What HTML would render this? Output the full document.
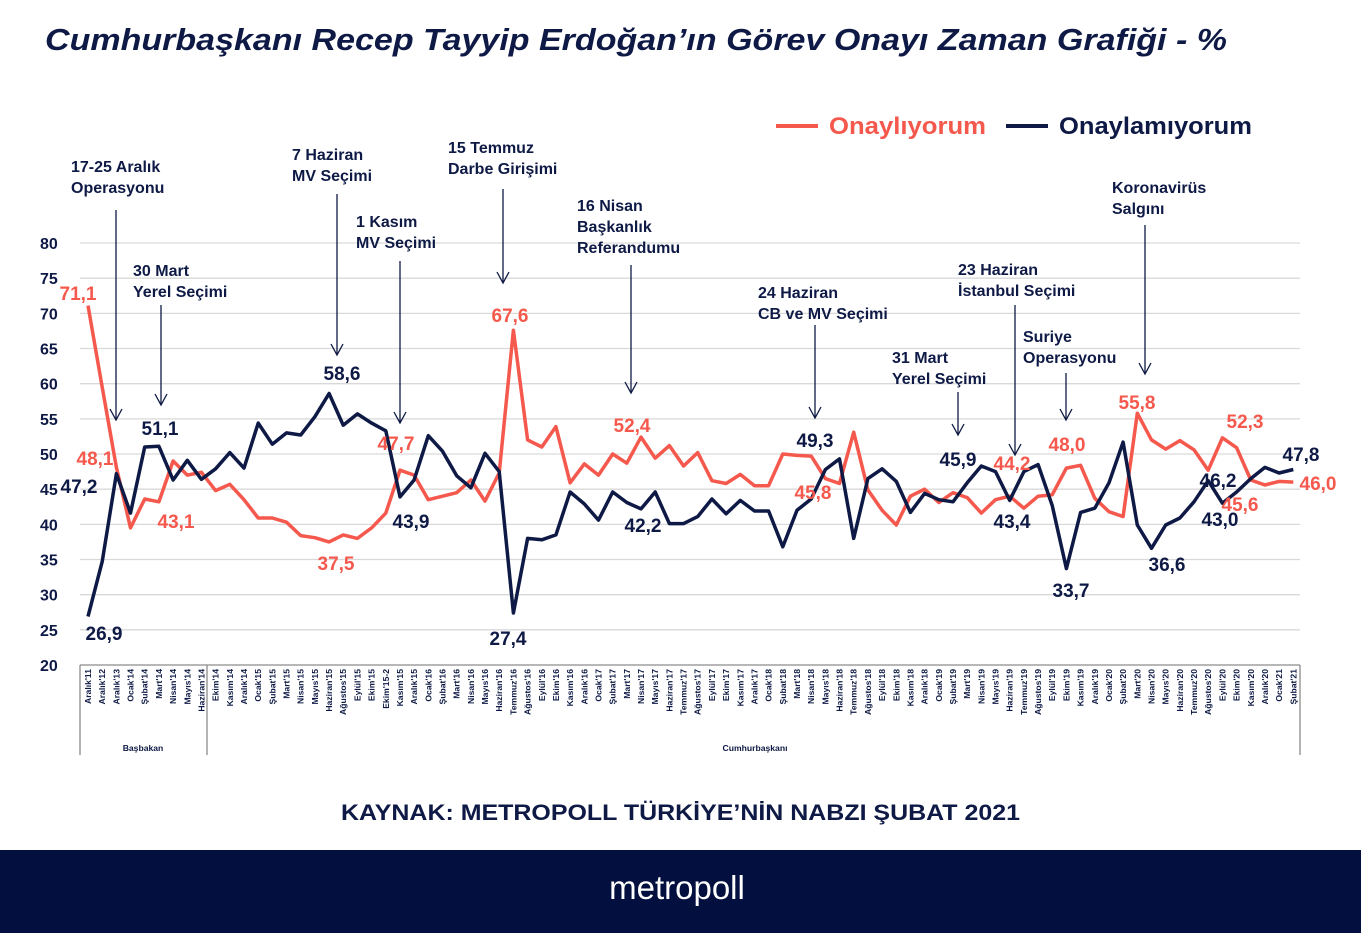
<!DOCTYPE html>
<html><head><meta charset="utf-8">
<style>
html,body{margin:0;padding:0;background:#fff;}
body{width:1361px;height:933px;overflow:hidden;position:relative;font-family:"Liberation Sans",sans-serif;}
svg text{font-family:"Liberation Sans",sans-serif;}
</style></head><body>
<svg id="s" width="1361" height="933" xmlns="http://www.w3.org/2000/svg">
<text x="45" y="50" font-size="31" font-weight="bold" font-style="italic" fill="#0e1a45" textLength="1182" lengthAdjust="spacingAndGlyphs">Cumhurbaşkanı Recep Tayyip Erdoğan’ın Görev Onayı Zaman Grafiği - %</text>
<line x1="776" y1="126" x2="818" y2="126" stroke="#f5584c" stroke-width="4"/>
<text x="829" y="134" font-size="24" font-weight="bold" fill="#f5584c" textLength="157" lengthAdjust="spacingAndGlyphs">Onaylıyorum</text>
<line x1="1006" y1="126" x2="1048" y2="126" stroke="#0e1a45" stroke-width="4"/>
<text x="1059" y="134" font-size="24" font-weight="bold" fill="#0e1a45" textLength="193" lengthAdjust="spacingAndGlyphs">Onaylamıyorum</text>
<g id="grid"></g>
<g id="ann" fill="#0e1a45" font-size="16" font-weight="bold"></g>
<g id="lines"></g>
<g id="lbl" font-size="19" font-weight="bold"></g>
<g id="xax" font-size="8.6" font-weight="bold" fill="#0e1a45"></g>
<text x="341" y="820" font-size="22" font-weight="bold" fill="#0e1a45" textLength="679" lengthAdjust="spacingAndGlyphs">KAYNAK: METROPOLL TÜRKİYE’NİN NABZI ŞUBAT 2021</text>
<rect x="0" y="850" width="1361" height="83" fill="#03103f"/>
<text x="677" y="899" font-size="33" fill="#fff" text-anchor="middle">metropoll</text>
</svg>
<script>
var NS="http://www.w3.org/2000/svg";
function el(p,t,a,txt){var e=document.createElementNS(NS,t);for(var k in a)e.setAttribute(k,a[k]);if(txt!==undefined)e.textContent=txt;document.getElementById(p).appendChild(e);return e;}
function Y(v){return 665-(v-20)*7.033;}
function X(i){return 88+14.18*i;}
for(var v=20;v<=80;v+=5){
 if(v>20)el("grid","line",{x1:80,x2:1300,y1:Y(v),y2:Y(v),stroke:"#d9d9d9","stroke-width":1.3});
 el("grid","text",{x:40,y:Y(v)+6,"font-size":16,"font-weight":"bold",fill:"#0e1a45"},v);
}
var A=[71.1,59.5,48.1,39.5,43.6,43.2,49.0,47.0,47.4,44.8,45.7,43.5,40.9,40.9,40.3,38.4,38.1,37.5,38.5,38.0,39.5,41.6,47.7,47.0,43.5,44.0,44.5,46.3,43.3,47.3,67.6,52.0,51.0,53.9,45.9,48.6,47.0,50.0,48.7,52.4,49.4,51.2,48.3,50.2,46.2,45.8,47.1,45.5,45.5,50.0,49.8,49.7,46.5,45.8,53.1,44.9,42.0,39.9,44.0,45.0,43.1,44.5,43.8,41.6,43.5,44.0,42.3,44.0,44.2,48.0,48.4,43.7,41.8,41.1,55.8,52.0,50.7,51.9,50.6,47.7,52.3,50.9,46.3,45.6,46.1,46.0];
var D=[26.9,34.7,47.2,41.6,51.0,51.1,46.3,49.1,46.4,47.9,50.2,48.0,54.4,51.4,53.0,52.7,55.3,58.6,54.1,55.7,54.4,53.3,43.9,46.3,52.6,50.4,46.9,45.2,50.1,47.5,27.4,38.0,37.8,38.5,44.6,42.9,40.6,44.6,43.1,42.2,44.6,40.1,40.1,41.1,43.6,41.5,43.4,41.9,41.9,36.8,42.0,43.6,47.8,49.3,38.0,46.5,47.9,46.1,41.7,44.4,43.5,43.2,45.9,48.3,47.5,43.4,47.5,48.5,42.7,33.7,41.7,42.3,45.9,51.7,39.9,36.6,39.9,40.9,43.2,46.2,43.0,44.6,46.5,48.1,47.3,47.8];
function pts(a){return a.map(function(v,i){return X(i).toFixed(1)+","+Y(v).toFixed(1);}).join(" ");}
var ann=[[116,210,420,71,172,"17-25 Aralık","Operasyonu"],[161,305,405,133,276,"30 Mart","Yerel Seçimi"],[337,194,355,292,160,"7 Haziran","MV Seçimi"],[400,261,423,356,227,"1 Kasım","MV Seçimi"],[503,189,283,448,153,"15 Temmuz","Darbe Girişimi"],[631,265,393,577,211,"16 Nisan","Başkanlık","Referandumu"],[815,325,418,758,298,"24 Haziran","CB  ve MV Seçimi"],[958,392,435,892,363,"31 Mart","Yerel Seçimi"],[1015,305,455,958,275,"23 Haziran","İstanbul Seçimi"],[1066,373,420,1023,342,"Suriye","Operasyonu"],[1145,225,374,1112,193,"Koronavirüs","Salgını"]];
ann.forEach(function(a){
 el("ann","line",{x1:a[0],x2:a[0],y1:a[1],y2:a[2],stroke:"#0e1a45","stroke-width":1.3});
 el("ann","polyline",{points:(a[0]-6)+","+(a[2]-11)+" "+a[0]+","+a[2]+" "+(a[0]+6)+","+(a[2]-11),fill:"none",stroke:"#0e1a45","stroke-width":1.3});
 for(var k=5;k<a.length;k++)el("ann","text",{x:a[3],y:a[4]+(k-5)*21},a[k]);
});
el("lines","polyline",{points:pts(A),fill:"none",stroke:"#f5584c","stroke-width":3.5,"stroke-linejoin":"round"});
el("lines","polyline",{points:pts(D),fill:"none",stroke:"#0e1a45","stroke-width":3.5,"stroke-linejoin":"round"});
var O="#f5584c",N="#0e1a45";
var L=[[78,300,"71,1",O],[95,465,"48,1",O],[79,493,"47,2",N],[104,640,"26,9",N],[160,435,"51,1",N],[176,528,"43,1",O],[336,570,"37,5",O],[342,380,"58,6",N],[396,450,"47,7",O],[411,528,"43,9",N],[510,322,"67,6",O],[508,645,"27,4",N],[632,432,"52,4",O],[643,532,"42,2",N],[815,447,"49,3",N],[813,499,"45,8",O],[958,466,"45,9",N],[1012,470,"44,2",O],[1012,528,"43,4",N],[1067,451,"48,0",O],[1071,597,"33,7",N],[1137,409,"55,8",O],[1167,571,"36,6",N],[1245,428,"52,3",O],[1218,487,"46,2",N],[1220,526,"43,0",N],[1240,511,"45,6",O],[1301,461,"47,8",N],[1318,490,"46,0",O]];
L.forEach(function(l){el("lbl","text",{x:l[0],y:l[1],fill:l[3],"text-anchor":"middle"},l[2]);});
var names="Aralık'11,Aralık'12,Aralık'13,Ocak'14,Şubat'14,Mart'14,Nisan'14,Mayıs'14,Haziran'14,Ekim'14,Kasım'14,Aralık'14,Ocak'15,Şubat'15,Mart'15,Nisan'15,Mayıs'15,Haziran'15,Ağustos'15,Eylül'15,Ekim'15,Ekim'15-2,Kasım'15,Aralık'15,Ocak'16,Şubat'16,Mart'16,Nisan'16,Mayıs'16,Haziran'16,Temmuz'16,Ağustos'16,Eylül'16,Ekim'16,Kasım'16,Aralık'16,Ocak'17,Şubat'17,Mart'17,Nisan'17,Mayıs'17,Haziran'17,Temmuz'17,Ağustos'17,Eylül'17,Ekim'17,Kasım'17,Aralık'17,Ocak'18,Şubat'18,Mart'18,Nisan'18,Mayıs'18,Haziran'18,Temmuz'18,Ağustos'18,Eylül'18,Ekim'18,Kasım'18,Aralık'18,Ocak'19,Şubat'19,Mart'19,Nisan'19,Mayıs'19,Haziran'19,Temmuz'19,Ağustos'19,Eylül'19,Ekim'19,Kasım'19,Aralık'19,Ocak'20,Şubat'20,Mart'20,Nisan'20,Mayıs'20,Haziran'20,Temmuz'20,Ağustos'20,Eylül'20,Ekim'20,Kasım'20,Aralık'20,Ocak'21,Şubat'21".split(",");
el("xax","line",{x1:80,x2:1300,y1:665,y2:665,stroke:"#8c8c8c","stroke-width":1.3});
[80,207,1300].forEach(function(x){el("xax","line",{x1:x,x2:x,y1:665,y2:755,stroke:"#8c8c8c","stroke-width":1.3});});
names.forEach(function(n,i){var x=X(i)+3;el("xax","text",{x:0,y:0,transform:"translate("+x+",669) rotate(-90)","text-anchor":"end"},n);});
el("xax","text",{x:143,y:751,"text-anchor":"middle"},"Başbakan");
el("xax","text",{x:755,y:751,"text-anchor":"middle"},"Cumhurbaşkanı");
</script>
</body></html>
